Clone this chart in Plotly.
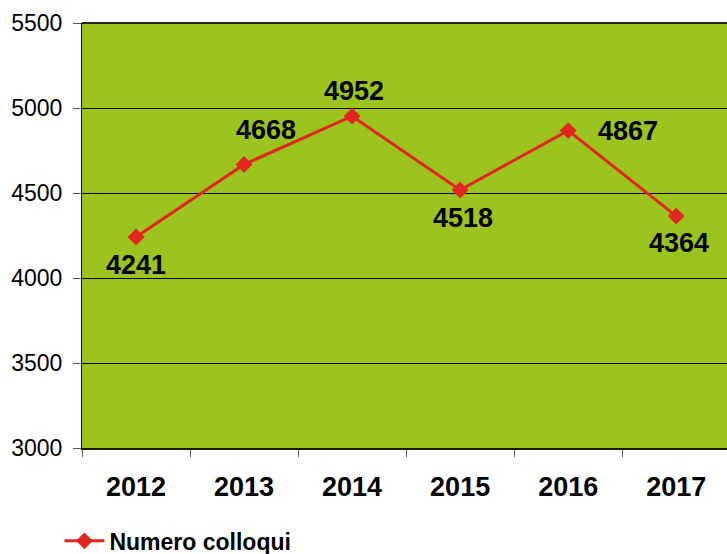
import plotly.graph_objects as go

years = ["2012", "2013", "2014", "2015", "2016", "2017"]
colloqui = [4241, 4668, 4952, 4518, 4867, 4364]
series_name = "Numero colloqui"
y_ticks = [3000, 3500, 4000, 4500, 5000, 5500]

RED = "#E3261F"
GREEN = "#9BC41F"
FONT = "Liberation Sans, Arial, sans-serif"

fig = go.Figure()
fig.add_trace(go.Scatter(
    x=years, y=colloqui, mode="lines+markers", name="<b>" + series_name + "</b>",
    line=dict(color=RED, width=3),
    marker=dict(symbol="diamond", size=13, color=RED),
    cliponaxis=False,
))

# label offsets (xshift, yshift) per point
offsets = [(0, -28), (22, 34), (2, 25), (3, -28), (60, 0), (3, -27)]
for i, (v, (dx, dy)) in enumerate(zip(colloqui, offsets)):
    fig.add_annotation(x=i, y=v, xref="x", yref="y", text=f"<b>{v}</b>", showarrow=False,
                       xshift=dx, yshift=dy,
                       font=dict(family=FONT, size=27, color="black"))

fig.update_layout(
    width=727, height=554,
    margin=dict(l=82, r=0, t=23, b=106, autoexpand=False),
    paper_bgcolor="white", plot_bgcolor=GREEN,
    font=dict(family=FONT, color="black"),
    showlegend=True,
    legend=dict(orientation="h", x=-0.035, y=-0.168, xanchor="left", yanchor="top",
                font=dict(family=FONT, size=23, color="black"),
                itemwidth=40, bgcolor="rgba(0,0,0,0)"),
)

fig.update_xaxes(
    type="category", range=[-0.5, 5.47],
    showgrid=False, showline=True, linecolor="#1a1a00", linewidth=2,
    ticks="outside", ticklen=7, tickcolor="#666666", tickwidth=1,
    tickson="boundaries",
    tickfont=dict(family=FONT, size=27, color="black"),
    tickprefix="<b>", ticksuffix="</b>",
    ticklabelstandoff=14,
    automargin=False,
)
fig.update_yaxes(
    range=[3000, 5500], tickvals=y_ticks,
    showgrid=True, gridcolor="black", gridwidth=1,
    showline=True, linecolor="black", linewidth=1, mirror=False,
    ticks="outside", ticklen=8, tickcolor="#555555",
    tickfont=dict(family=FONT, size=23, color="black"),
    ticklabelstandoff=6,
    zeroline=False, automargin=False,
)
# top border line
fig.add_shape(type="line", xref="paper", yref="paper", x0=0, x1=1, y0=1, y1=1,
              line=dict(color="#222222", width=2))

fig.write_html("out.html", config={"displayModeBar": False},
               post_script="document.body.style.margin='0';document.body.style.overflow='hidden';")
